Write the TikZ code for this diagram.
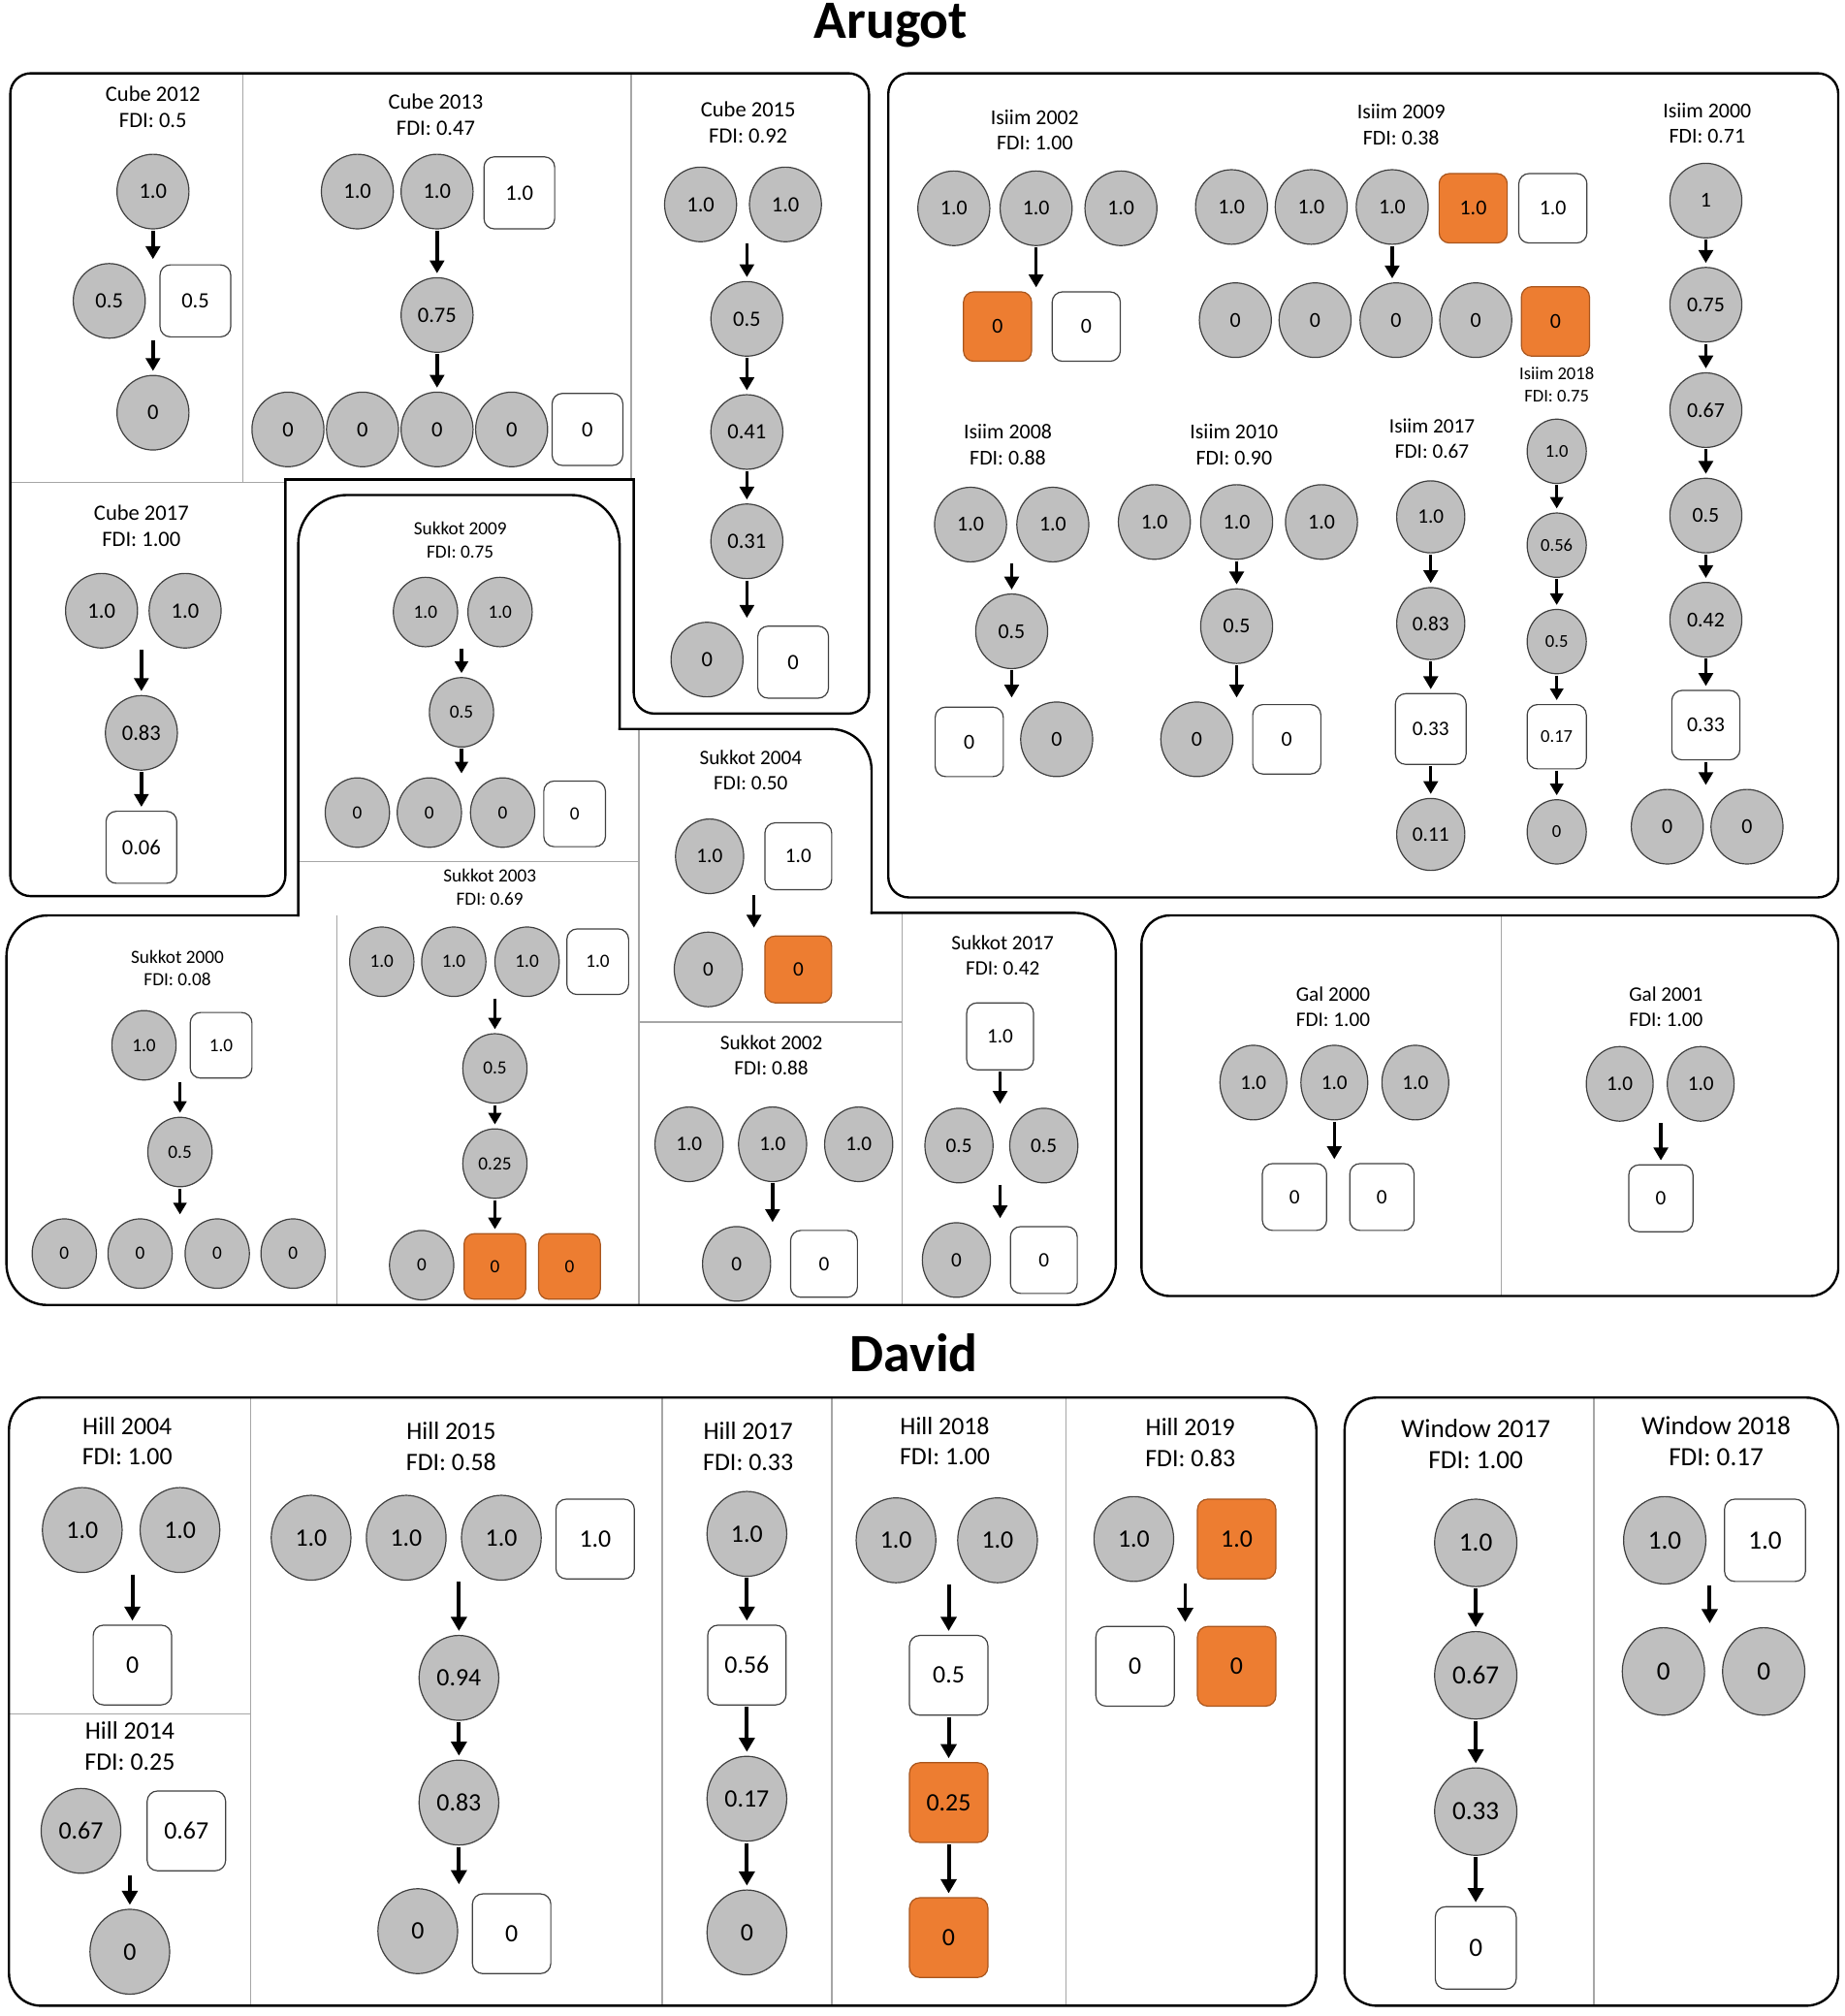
\documentclass[tikz,border=0pt]{standalone}
\usepackage{fontspec}
\setmainfont{Carlito}
\usetikzlibrary{shapes.geometric,arrows.meta,calc}
\definecolor{cgray}{HTML}{BFBFBF}
\definecolor{ndraw}{HTML}{404040}
\definecolor{corange}{HTML}{ED7D31}
\definecolor{odraw}{HTML}{A9561E}
\definecolor{divg}{HTML}{A6A6A6}
\def\cw{56pt}\def\ch{58pt}\def\sw{55pt}\def\sh{56pt}
\begin{document}
\begin{tikzpicture}[x=1pt,y=-1pt,
 base/.style={draw=ndraw, line width=0.9pt, inner sep=0pt},
 C/.style={base, ellipse, fill=cgray, minimum width=\cw, minimum height=\ch},
 S/.style={base, rectangle, rounded corners=8pt, fill=white, minimum width=\sw, minimum height=\sh},
 O/.style={S, fill=corange, draw=odraw},
 ttl/.style={align=center, inner sep=0pt},
 arr/.style={-{Triangle[width=11pt,length=10pt]}, line width=2.6pt, shorten <=1pt, shorten >=3pt},
 arrS/.style={-{Triangle[width=10pt,length=9pt]}, line width=2.4pt, shorten <=1pt, shorten >=3pt},
 arrB/.style={-{Triangle[width=12pt,length=11pt]}, line width=3pt, shorten <=1pt, shorten >=3pt},
 outl/.style={line width=1.8pt, line cap=rect},
 div/.style={draw=divg, line width=1pt},
 big/.style={font=\fontsize{42}{50}\selectfont\bfseries, inner sep=0pt}
]
\fill[white] (0,0) rectangle (1435,1568);
\useasboundingbox (0,0) rectangle (1435,1568);

% ---------- dividers ----------
\draw[div] (189,57) -- (189,375);
\draw[div] (8,375) -- (222,375);
\draw[div] (491,57) -- (491,373);
\draw[div] (232,670) -- (497,670);
\draw[div] (262,712) -- (262,1015);
\draw[div] (497,567) -- (497,1015);
\draw[div] (497,795) -- (702,795);
\draw[div] (702,710) -- (702,1015);
\draw[div] (1168,712) -- (1168,1008);
\draw[div] (195,1087) -- (195,1560);
\draw[div] (7,1333) -- (195,1333);
\draw[div] (515,1087) -- (515,1560);
\draw[div] (647,1087) -- (647,1560);
\draw[div] (829,1087) -- (829,1560);
\draw[div] (1240,1087) -- (1240,1560);

% ---------- outlines ----------
\draw[outl, rounded corners=16pt] (493,373) -- (493,555) -- (676,555) -- (676,57) -- (8,57) -- (8,697) -- (222,697) -- (222,373);
\draw[outl] (222,373) -- (493,373);
\draw[outl, rounded corners=38pt] (232,712) -- (232,385) -- (482,385) -- (482,567);
\draw[outl, rounded corners=32pt] (482,567) -- (678,567) -- (678,710);
\draw[outl, rounded corners=32pt] (678,710) -- (868,710) -- (868,1015) -- (5,1015) -- (5,712) -- (232,712);
\draw[outl, rounded corners=16pt] (691,57) rectangle (1430,698);
\draw[outl, rounded corners=22pt] (888,712) rectangle (1430,1008);
\draw[outl, rounded corners=25pt] (7,1087) rectangle (1024,1560);
\draw[outl, rounded corners=25pt] (1046,1087) rectangle (1430,1560);

% ---------- big titles ----------
\node[big] (tArugot) at (693,20) {Arugot};
\node[big] (tDavid) at (711,1052) {David};

% ---------- Cube ----------
\begin{scope}[font=\fontsize{17}{20.5}\selectfont]
\def\cw{56pt}\def\ch{58pt}\def\sw{55pt}\def\sh{56pt}
% Cube 2012
\node[ttl] (c12t) at (119,83) {Cube 2012\\FDI: 0.5};
\node[C] (c12a) at (119,149) {1.0};
\node[C] (c12b) at (85,234) {0.5};
\node[S] (c12c) at (152,234) {0.5};
\node[C] (c12d) at (119,321) {0};
\draw[arr] (c12a) -- (c12a |- c12b.north);
\draw[arr] (c12d |- c12b.south) -- (c12d);
% Cube 2013
\node[ttl] (c13t) at (339,89) {Cube 2013\\FDI: 0.47};
\node[C] (c13a) at (278,149) {1.0};
\node[C] (c13b) at (340,149) {1.0};
\node[S] (c13c) at (404,150) {1.0};
\node[C] (c13d) at (340,245) {0.75};
\node[C] (c13e) at (224,334) {0};
\node[C] (c13f) at (282,334) {0};
\node[C] (c13g) at (340,334) {0};
\node[C] (c13h) at (398,334) {0};
\node[S] (c13i) at (457,334) {0};
\draw[arr] (c13b) -- (c13d);
\draw[arr] (c13d) -- (c13g);
% Cube 2015
\node[ttl] (c15t) at (582,95) {Cube 2015\\FDI: 0.92};
\node[C] (c15a) at (545,159) {1.0};
\node[C] (c15b) at (611,159) {1.0};
\node[C] (c15c) at (581,248) {0.5};
\node[C] (c15d) at (581,336) {0.41};
\node[C] (c15e) at (581,421) {0.31};
\node[C] (c15f) at (550,513) {0};
\node[S] (c15g) at (617,515) {0};
\draw[arr] (c15c |- c15a.south) -- (c15c);
\draw[arr] (c15c) -- (c15d);
\draw[arr] (c15d) -- (c15e);
\draw[arr] (c15e) -- (c15e |- c15f.north);
% Cube 2017
\node[ttl] (c17t) at (110,409) {Cube 2017\\FDI: 1.00};
\node[C] (c17a) at (79,475) {1.0};
\node[C] (c17b) at (144,475) {1.0};
\node[C] (c17c) at (110,570) {0.83};
\node[S] (c17d) at (110,659) {0.06};
\draw[arr] (c17c |- c17a.south) -- (c17c);
\draw[arr] (c17c) -- (c17d);
\end{scope}

% ---------- Sukkot (small) ----------
\begin{scope}[font=\fontsize{14.5}{18}\selectfont]
\def\cw{50pt}\def\ch{54pt}\def\sw{48pt}\def\sh{51pt}
% Sukkot 2009
\node[ttl] (s09t) at (358,420) {Sukkot 2009\\FDI: 0.75};
\node[C] (s09a) at (331,476) {1.0};
\node[C] (s09b) at (389,476) {1.0};
\node[C] (s09c) at (359,554) {0.5};
\node[C] (s09d) at (278,632) {0};
\node[C] (s09e) at (334,632) {0};
\node[C] (s09f) at (391,632) {0};
\node[S] (s09g) at (447,633) {0};
\draw[arrS] (s09c |- s09a.south) -- (s09c);
\draw[arrS] (s09c) -- (s09c |- s09d.north);
% Sukkot 2003
\node[ttl] (s03t) at (381,690) {Sukkot 2003\\FDI: 0.69};
\node[C] (s03a) at (297,748) {1.0};
\node[C] (s03b) at (353,748) {1.0};
\node[C] (s03c) at (410,748) {1.0};
\node[S] (s03d) at (465,748) {1.0};
\node[C] (s03e) at (385,831) {0.5};
\node[C] (s03f) at (385,905) {0.25};
\node[C] (s03g) at (328,984) {0};
\node[O] (s03h) at (385,985) {0};
\node[O] (s03i) at (443,985) {0};
\draw[arrS] (s03e |- s03a.south) -- (s03e);
\draw[arrS] (s03e) -- (s03f);
\draw[arrS] (s03f) -- (s03h);
% Sukkot 2000
\node[ttl] (s00t) at (138,753) {Sukkot 2000\\FDI: 0.08};
\node[C] (s00a) at (112,813) {1.0};
\node[S] (s00b) at (172,813) {1.0};
\node[C] (s00c) at (140,896) {0.5};
\node[C] (s00d) at (50,975) {0};
\node[C] (s00e) at (109,975) {0};
\node[C] (s00f) at (169,975) {0};
\node[C] (s00g) at (228,975) {0};
\draw[arrS] (s00c |- s00a.south) -- (s00c);
\draw[arrS] (s00c) -- (s00c |- s00d.north);
\end{scope}

% ---------- Sukkot (large) ----------
\begin{scope}[font=\fontsize{16}{19.5}\selectfont]
\def\cw{53pt}\def\ch{58pt}\def\sw{52pt}\def\sh{52pt}
% Sukkot 2004
\node[ttl] (s04t) at (584,599) {Sukkot 2004\\FDI: 0.50};
\node[C] (s04a) at (552,666) {1.0};
\node[S] (s04b) at (621,666) {1.0};
\node[C] (s04c) at (551,754) {0};
\node[O] (s04d) at (621,754) {0};
\coordinate (s04m) at ($(s04a)!0.5!(s04b)$);
\draw[arr] (s04m |- s04a.south) -- (s04m |- s04c.north);
% Sukkot 2002
\node[ttl] (s02t) at (600,821) {Sukkot 2002\\FDI: 0.88};
\node[C] (s02a) at (536,890) {1.0};
\node[C] (s02b) at (601,890) {1.0};
\node[C] (s02c) at (668,890) {1.0};
\node[C] (s02d) at (573,983) {0};
\node[S] (s02e) at (641,983) {0};
\draw[arr] (s02b) -- (s02b |- s02d.north);
% Sukkot 2017
\node[ttl] (s17t) at (780,743) {Sukkot 2017\\FDI: 0.42};
\node[S] (s17a) at (778,806) {1.0};
\node[C] (s17b) at (746,891) {0.5};
\node[C] (s17c) at (812,891) {0.5};
\node[C] (s17d) at (744,980) {0};
\node[S] (s17e) at (812,980) {0};
\draw[arr] (s17a) -- (s17a |- s17b.north);
\draw[arr] (s17a |- s17b.south) -- (s17a |- s17d.north);
\end{scope}

% ---------- Isiim ----------
\begin{scope}[font=\fontsize{16.5}{20}\selectfont]
\def\cw{56pt}\def\ch{58pt}\def\sw{53pt}\def\sh{54pt}
% Isiim 2002
\node[ttl] (i02t) at (805,101) {Isiim 2002\\FDI: 1.00};
\node[C] (i02a) at (742,162) {1.0};
\node[C] (i02b) at (806,162) {1.0};
\node[C] (i02c) at (872,162) {1.0};
\node[O] (i02d) at (776,254) {0};
\node[S] (i02e) at (845,254) {0};
\draw[arr] (i02b) -- (i02b |- i02d.north);
% Isiim 2009
\node[ttl] (i09t) at (1090,97) {Isiim 2009\\FDI: 0.38};
\node[C] (i09a) at (958,161) {1.0};
\node[C] (i09b) at (1020,161) {1.0};
\node[C] (i09c) at (1083,161) {1.0};
\node[O] (i09d) at (1146,162) {1.0};
\node[S] (i09e) at (1208,162) {1.0};
\node[C] (i09f) at (961,249) {0};
\node[C] (i09g) at (1023,249) {0};
\node[C] (i09h) at (1086,249) {0};
\node[C] (i09i) at (1148,249) {0};
\node[O] (i09j) at (1210,250) {0};
\draw[arr] (i09c) -- (i09c |- i09f.north);
% Isiim 2000
\node[ttl] (i00t) at (1328,96) {Isiim 2000\\FDI: 0.71};
\node[C] (i00a) at (1327,156) {1};
\node[C] (i00b) at (1327,237) {0.75};
\node[C] (i00c) at (1327,319) {0.67};
\node[C] (i00d) at (1327,401) {0.5};
\node[C] (i00e) at (1327,482) {0.42};
\node[S] (i00f) at (1327,564) {0.33};
\node[C] (i00g) at (1297,643) {0};
\node[C] (i00h) at (1359,643) {0};
\draw[arr] (i00a) -- (i00b);
\draw[arr] (i00b) -- (i00c);
\draw[arr] (i00c) -- (i00d);
\draw[arr] (i00d) -- (i00e);
\draw[arr] (i00e) -- (i00f);
\draw[arr] (i00f) -- (i00f |- i00g.north);
% Isiim 2008
\node[ttl] (i08t) at (784,346) {Isiim 2008\\FDI: 0.88};
\node[C] (i08a) at (755,408) {1.0};
\node[C] (i08b) at (819,408) {1.0};
\node[C] (i08c) at (787,491) {0.5};
\node[S] (i08d) at (754,577) {0};
\node[C] (i08e) at (822,575) {0};
\draw[arr] (i08c |- i08a.south) -- (i08c);
\draw[arr] (i08c) -- (i08c |- i08e.north);
% Isiim 2010
\node[ttl] (i10t) at (960,346) {Isiim 2010\\FDI: 0.90};
\node[C] (i10a) at (898,406) {1.0};
\node[C] (i10b) at (962,406) {1.0};
\node[C] (i10c) at (1028,406) {1.0};
\node[C] (i10d) at (962,487) {0.5};
\node[C] (i10e) at (931,575) {0};
\node[S] (i10f) at (1001,575) {0};
\draw[arr] (i10b) -- (i10d);
\draw[arr] (i10d) -- (i10d |- i10e.north);
\end{scope}

% Isiim 2017
\begin{scope}[font=\fontsize{16}{19.5}\selectfont]
\def\cw{53pt}\def\ch{56pt}\def\sw{55pt}\def\sh{55pt}
\node[ttl] (i17t) at (1114,341) {Isiim 2017\\FDI: 0.67};
\node[C] (i17a) at (1113,402) {1.0};
\node[C] (i17b) at (1113,485) {0.83};
\node[S] (i17c) at (1113,567) {0.33};
\node[C] (i17d) at (1113,649) {0.11};
\draw[arr] (i17a) -- (i17b);
\draw[arr] (i17b) -- (i17c);
\draw[arr] (i17c) -- (i17d);
\end{scope}

% Isiim 2018
\begin{scope}[font=\fontsize{14}{17}\selectfont]
\def\cw{46pt}\def\ch{50pt}\def\sw{46pt}\def\sh{50pt}
\node[ttl] (i18t) at (1211,299) {Isiim 2018\\FDI: 0.75};
\node[C] (i18a) at (1211,351) {1.0};
\node[C] (i18b) at (1211,424) {0.56};
\node[C] (i18c) at (1211,499) {0.5};
\node[S] (i18d) at (1211,573) {0.17};
\node[C] (i18e) at (1211,647) {0};
\draw[arrS] (i18a) -- (i18b);
\draw[arrS] (i18b) -- (i18c);
\draw[arrS] (i18c) -- (i18d);
\draw[arrS] (i18d) -- (i18e);
\end{scope}

% ---------- Gal ----------
\begin{scope}[font=\fontsize{16}{19.5}\selectfont]
\def\cw{52pt}\def\ch{58pt}\def\sw{50pt}\def\sh{52pt}
\node[ttl] (g0t) at (1037,783) {Gal 2000\\FDI: 1.00};
\node[C] (g0a) at (975,842) {1.0};
\node[C] (g0b) at (1038,842) {1.0};
\node[C] (g0c) at (1101,842) {1.0};
\node[S] (g0d) at (1007,931) {0};
\node[S] (g0e) at (1075,931) {0};
\draw[arr] (g0b) -- (g0b |- g0d.north);
\node[ttl] (g1t) at (1296,783) {Gal 2001\\FDI: 1.00};
\node[C] (g1a) at (1260,843) {1.0};
\node[C] (g1b) at (1323,843) {1.0};
\node[S] (g1c) at (1292,932) {0};
\draw[arr] (g1c |- g1a.south) -- (g1c);
\end{scope}

% ---------- Hill ----------
\begin{scope}[font=\fontsize{19.5}{23.5}\selectfont]
\def\cw{62pt}\def\ch{66pt}\def\sw{61pt}\def\sh{62pt}
% Hill 2004
\node[ttl] (h04t) at (99,1121) {Hill 2004\\FDI: 1.00};
\node[C] (h04a) at (64,1190) {1.0};
\node[C] (h04b) at (140,1190) {1.0};
\node[S] (h04c) at (103,1295) {0};
\draw[arrB] (h04c |- h04a.south) -- (h04c);
% Hill 2014
\node[ttl] (h14t) at (101,1358) {Hill 2014\\FDI: 0.25};
\node[C] (h14a) at (63,1424) {0.67};
\node[S] (h14b) at (145,1424) {0.67};
\node[C] (h14c) at (101,1518) {0};
\draw[arrB] (h14c |- h14a.south) -- (h14c);
% Hill 2015
\node[ttl] (h15t) at (351,1125) {Hill 2015\\FDI: 0.58};
\node[C] (h15a) at (242,1196) {1.0};
\node[C] (h15b) at (316,1196) {1.0};
\node[C] (h15c) at (390,1196) {1.0};
\node[S] (h15d) at (463,1197) {1.0};
\node[C] (h15e) at (357,1305) {0.94};
\node[C] (h15f) at (357,1402) {0.83};
\node[C] (h15g) at (325,1502) {0};
\node[S] (h15h) at (398,1504) {0};
\draw[arrB] (h15e |- h15a.south) -- (h15e);
\draw[arrB] (h15e) -- (h15f);
\draw[arrB] (h15f) -- (h15f |- h15g.north);
% Hill 2017
\node[ttl] (h17t) at (582,1125) {Hill 2017\\FDI: 0.33};
\node[C] (h17a) at (581,1193) {1.0};
\node[S] (h17b) at (581,1295) {0.56};
\node[C] (h17c) at (581,1399) {0.17};
\node[C] (h17d) at (581,1503) {0};
\draw[arrB] (h17a) -- (h17b);
\draw[arrB] (h17b) -- (h17c);
\draw[arrB] (h17c) -- (h17d);
% Hill 2018
\node[ttl] (h18t) at (735,1121) {Hill 2018\\FDI: 1.00};
\node[C] (h18a) at (697,1198) {1.0};
\node[C] (h18b) at (776,1198) {1.0};
\node[S] (h18c) at (738,1303) {0.5};
\node[O] (h18d) at (738,1402) {0.25};
\node[O] (h18e) at (738,1507) {0};
\draw[arrB] (h18c |- h18a.south) -- (h18c);
\draw[arrB] (h18c) -- (h18d);
\draw[arrB] (h18d) -- (h18e);
% Hill 2019
\node[ttl] (h19t) at (926,1122) {Hill 2019\\FDI: 0.83};
\node[C] (h19a) at (882,1197) {1.0};
\node[O] (h19b) at (962,1197) {1.0};
\node[S] (h19c) at (883,1296) {0};
\node[O] (h19d) at (962,1296) {0};
\coordinate (h19m) at ($(h19a)!0.5!(h19b)$);
\draw[arrB] (h19m |- h19a.south) -- (h19m |- h19c.north);
\end{scope}

% ---------- Window ----------
\begin{scope}[font=\fontsize{20.5}{24.5}\selectfont]
\def\cw{64pt}\def\ch{68pt}\def\sw{63pt}\def\sh{64pt}
\node[ttl] (w17t) at (1148,1123) {Window 2017\\FDI: 1.00};
\node[C] (w17a) at (1148,1200) {1.0};
\node[C] (w17b) at (1148,1303) {0.67};
\node[C] (w17c) at (1148,1409) {0.33};
\node[S] (w17d) at (1148,1515) {0};
\draw[arrB] (w17a) -- (w17b);
\draw[arrB] (w17b) -- (w17c);
\draw[arrB] (w17c) -- (w17d);
\node[ttl] (w18t) at (1335,1121) {Window 2018\\FDI: 0.17};
\node[C] (w18a) at (1295,1198) {1.0};
\node[S] (w18b) at (1373,1198) {1.0};
\node[C] (w18c) at (1294,1300) {0};
\node[C] (w18d) at (1372,1300) {0};
\coordinate (w18m) at (1330,1198);
\draw[arrB] (w18m |- w18a.south) -- (w18m |- w18c.north);
\end{scope}
\end{tikzpicture}
\end{document}
